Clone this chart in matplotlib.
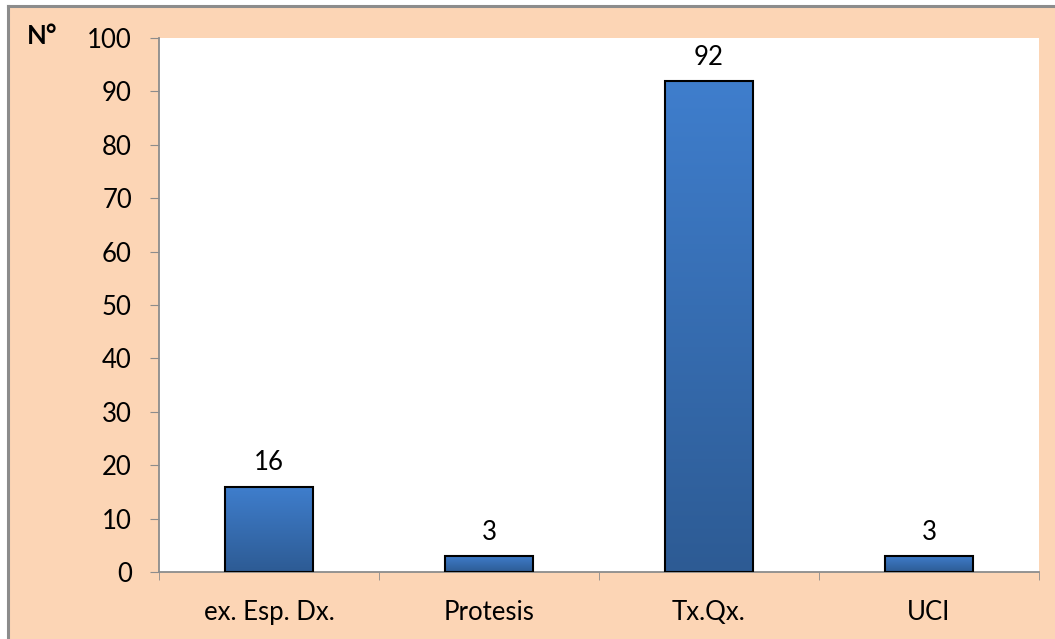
import numpy as np
import matplotlib.pyplot as plt
from matplotlib.colors import LinearSegmentedColormap
from matplotlib.lines import Line2D

plt.rcParams['font.family'] = ['Lato', 'DejaVu Sans']

categories = ["ex. Esp. Dx.", "Protesis", "Tx.Qx.", "UCI"]
counts = [16, 3, 92, 3]
y_ticks = list(range(0, 101, 10))

peach = "#FCD5B5"
bar_top = "#3F7ECD"
bar_bottom = "#2D5B94"
fs = 18.5

fig = plt.figure(figsize=(10.55, 6.39), dpi=100)
fig.patch.set_facecolor("white")

# peach chart area with a grey frame on the left and top
W, H = 1055, 639
bg = plt.Rectangle((8 / W, 0), 1 - 8 / W, 1 - 6 / H, transform=fig.transFigure,
                   facecolor=peach, edgecolor="none", zorder=-2)
fig.patches.append(bg)
fig.lines.append(Line2D([8 / W, 8 / W], [0, 1 - 6 / H], transform=fig.transFigure,
                        color="#8c8c8c", lw=2.2, zorder=-1))
fig.lines.append(Line2D([8 / W, 1], [1 - 6 / H, 1 - 6 / H], transform=fig.transFigure,
                        color="#8c8c8c", lw=2.2, zorder=-1))

ax = fig.add_axes([159 / W, 67 / H, (1039 - 159) / W, (572 - 38) / H])
ax.set_facecolor("white")

x = np.arange(len(categories))
bars = ax.bar(x, counts, width=0.4, color="none", edgecolor="black", linewidth=1.5, zorder=3)

# vertical gradient fill, lighter at the top of each bar
cmap = LinearSegmentedColormap.from_list("blue_grad", [bar_bottom, bar_top])
grad = np.linspace(0, 1, 256).reshape(-1, 1)
for b in bars:
    x0, y0 = b.get_x(), b.get_y()
    im = ax.imshow(grad, cmap=cmap, origin="lower", aspect="auto",
                   extent=[x0, x0 + b.get_width(), y0, y0 + b.get_height()], zorder=2)
    im.set_clip_path(b)

for xi, v in zip(x, counts):
    ax.annotate(str(v), (xi, v), xytext=(0, 8), textcoords="offset points",
                ha="center", va="bottom", fontsize=fs)

ax.set_xlim(-0.5, len(categories) - 0.5)
ax.set_ylim(0, 100)
ax.set_yticks(y_ticks)
ax.set_xticks(x)
ax.set_xticklabels(categories)
ax.set_xticks(np.arange(len(categories) + 1) - 0.5, minor=True)

for side in ["top", "right"]:
    ax.spines[side].set_visible(False)
for side in ["left", "bottom"]:
    ax.spines[side].set_color("#8c8c8c")
    ax.spines[side].set_linewidth(1.3)

ax.tick_params(axis="y", length=6.5, color="#8c8c8c", labelsize=fs, pad=13)
ax.tick_params(axis="x", which="major", length=0, labelsize=fs, pad=20)
ax.tick_params(axis="x", which="minor", length=6, color="#8c8c8c")

fig.text(42 / W, 1 - 36 / H, "N°", fontsize=fs, fontweight="bold", ha="center", va="center")

fig.savefig("out.png", dpi=100)
